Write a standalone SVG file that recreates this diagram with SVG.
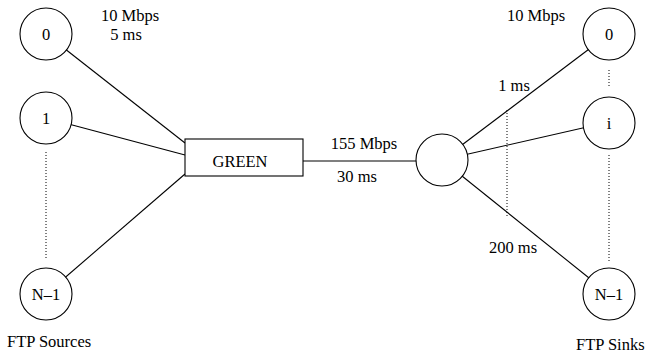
<svg xmlns="http://www.w3.org/2000/svg" width="647" height="353" viewBox="0 0 647 353">
<style>
.n{fill:#fff;stroke:#000;stroke-width:1.1}
.l{stroke:#000;stroke-width:1.1;fill:none}
.d{stroke:#000;stroke-width:1;stroke-dasharray:1 2;fill:none}
.c{text-anchor:middle}
</style>
<rect width="647" height="353" fill="#fff"/>
<g id="connectors">
<line class="l" x1="46" y1="34" x2="185" y2="143"/>
<line class="l" x1="46" y1="118" x2="185" y2="155"/>
<line class="l" x1="46" y1="294" x2="185" y2="174"/>
<line class="l" x1="303" y1="161" x2="442" y2="161"/>
<line class="l" x1="442" y1="160" x2="609" y2="34"/>
<line class="l" x1="442" y1="160" x2="609" y2="122"/>
<line class="l" x1="442" y1="160" x2="609" y2="294"/>
<line class="d" x1="46" y1="152" x2="46" y2="260"/>
<line class="d" x1="609" y1="70" x2="609" y2="86"/>
<line class="d" x1="609" y1="155" x2="609" y2="262"/>
<line class="d" x1="507" y1="110" x2="507" y2="218"/>
</g>
<g font-family="'Liberation Serif', 'Times New Roman', 'DejaVu Serif', serif" font-size="16.5" fill="#000">
<g id="src0"><circle class="n" cx="46" cy="34" r="26"/><text class="c" x="46" y="40">0</text></g>
<g id="src1"><circle class="n" cx="46" cy="118" r="26"/><text class="c" x="46" y="124">1</text></g>
<g id="srcN"><circle class="n" cx="46" cy="294" r="26"/><text class="c" x="46" y="300">N–1</text></g>
<g id="green"><rect class="n" x="185" y="139" width="118" height="37"/><text class="c" x="240" y="167">GREEN</text></g>
<g id="router"><circle class="n" cx="442" cy="160" r="26"/></g>
<g id="sink0"><circle class="n" cx="609" cy="34" r="26"/><text class="c" x="609" y="40">0</text></g>
<g id="sinki"><circle class="n" cx="609" cy="123" r="26"/><text class="c" x="609" y="129">i</text></g>
<g id="sinkN"><circle class="n" cx="609" cy="294" r="26"/><text class="c" x="609" y="300">N–1</text></g>
<g id="labels">
<text class="c" x="130" y="21">10 Mbps</text>
<text class="c" x="126" y="39.5">5 ms</text>
<text class="c" x="364" y="149">155 Mbps</text>
<text class="c" x="357" y="182">30 ms</text>
<text class="c" x="536" y="21">10 Mbps</text>
<text class="c" x="514" y="91">1 ms</text>
<text class="c" x="513" y="253">200 ms</text>
<text x="7" y="347">FTP Sources</text>
<text x="576" y="350">FTP Sinks</text>
</g>
</g>
</svg>
